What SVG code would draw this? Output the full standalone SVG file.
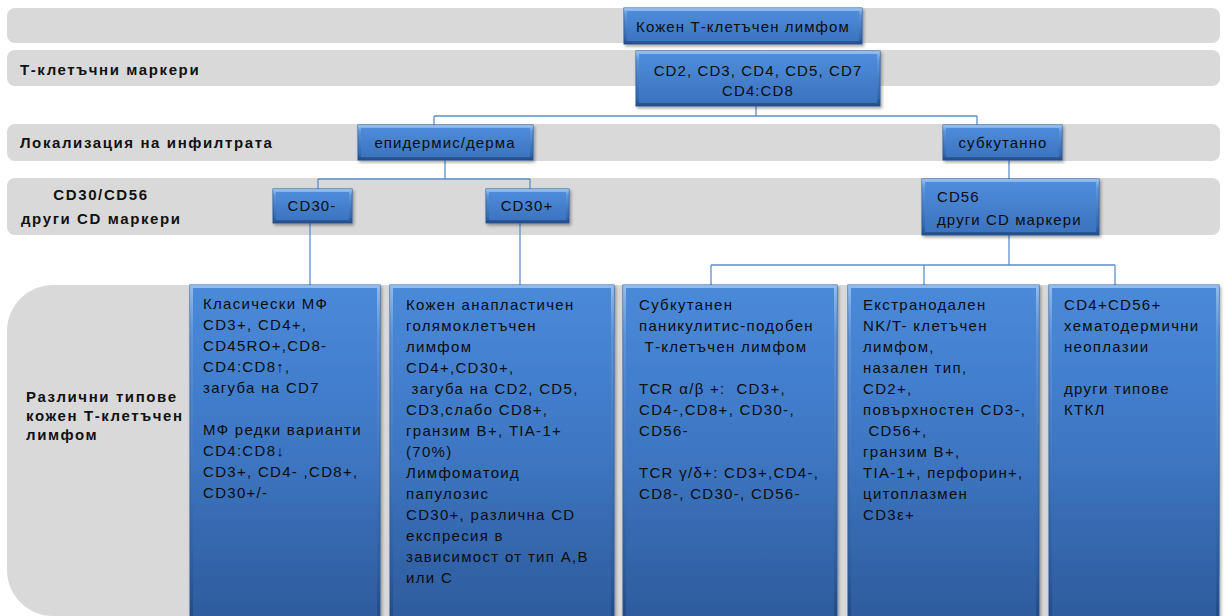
<svg xmlns="http://www.w3.org/2000/svg" width="1225" height="616" viewBox="0 0 1225 616">
<defs>
<linearGradient id="gs" x1="0" y1="0" x2="0" y2="1"><stop offset="0" stop-color="#508fdc"/><stop offset="1" stop-color="#3a71bd"/></linearGradient>
<linearGradient id="gt" x1="0" y1="0" x2="0" y2="1"><stop offset="0" stop-color="#4a8ad9"/><stop offset="0.5" stop-color="#3d76c2"/><stop offset="1" stop-color="#2d5a9b"/></linearGradient>
<linearGradient id="bev" x1="0" y1="0" x2="0" y2="1"><stop offset="0" stop-color="#a9cdf5" stop-opacity="0.75"/><stop offset="0.15" stop-color="#7fb0ea" stop-opacity="0.35"/><stop offset="0.85" stop-color="#1e4680" stop-opacity="0.25"/><stop offset="1" stop-color="#1b3d70" stop-opacity="0.6"/></linearGradient>
<filter id="sh" x="-10%" y="-10%" width="125%" height="140%"><feDropShadow dx="1.5" dy="2" stdDeviation="1.5" flood-color="#000" flood-opacity="0.35"/></filter>
<style>
.band{fill:#d9d9d9}
.box{fill:url(#gs);stroke:#2f5f9f;stroke-width:1;filter:url(#sh)}
.tall{fill:url(#gt);stroke:#2f5f9f;stroke-width:1;filter:url(#sh)}
.bev{fill:none;stroke:url(#bev);stroke-width:3}
.lbl{font-family:"Liberation Sans",Arial,sans-serif;font-size:15px;font-weight:bold;fill:#111;letter-spacing:1.6px}
.t{font-family:"Liberation Sans",Arial,sans-serif;font-size:15px;fill:#0d0d0d;letter-spacing:1.1px}
.b{font-family:"Liberation Sans",Arial,sans-serif;font-size:15px;fill:#0d0d0d;letter-spacing:1.3px}
.c{text-anchor:middle}
.con{fill:none;stroke:#5f8fcc;stroke-width:1.3}
</style>
</defs>
<g id="bands">
<rect class="band" x="7" y="8" width="1213" height="35" rx="8"/>
<rect class="band" x="7" y="50" width="1213" height="36" rx="8"/>
<rect class="band" x="7" y="124" width="1213" height="37" rx="8"/>
<rect class="band" x="7" y="178" width="1213" height="57" rx="8"/>
<rect class="band" x="7" y="285" width="1213" height="331" rx="46"/>
<text class="lbl" x="20" y="75">Т-клетъчни маркери</text>
<text class="lbl" x="20" y="148">Локализация на инфилтрата</text>
<text class="lbl c" x="101" y="200">CD30/CD56</text>
<text class="lbl" x="21" y="224">други CD маркери</text>
<text class="lbl" x="26" y="402"><tspan x="26">Различни типове</tspan><tspan x="26" dy="19">кожен Т-клетъчен</tspan><tspan x="26" dy="19">лимфом</tspan></text>
</g>
<g id="connectors">
<path class="con" d="M756 106V116M434 116H977M434 116V125M977 116V125"/>
<path class="con" d="M445 160V179M318 179H530M318 179V189M530 179V189"/>
<path class="con" d="M310 223V285M520 223V285"/>
<path class="con" d="M1009 160V179M1009 235V265M711 265H1115M711 265V285M924 265V285M1115 265V285"/>
</g>
<g id="n1"><rect class="box" x="624" y="8" width="238" height="36"/><rect class="bev" x="625.5" y="9.5" width="235" height="33"/><text class="t c" x="743" y="32">Кожен Т-клетъчен лимфом</text></g>
<g id="n2"><rect class="box" x="636" y="51" width="244" height="55"/><rect class="bev" x="637.5" y="52.5" width="241" height="52"/><text class="t c" x="758" y="76">CD2, CD3, CD4, CD5, CD7</text><text class="t c" x="758" y="96">CD4:CD8</text></g>
<g id="n3"><rect class="box" x="358" y="125" width="175" height="35"/><rect class="bev" x="359.5" y="126.5" width="172" height="32"/><text class="t c" x="445" y="148">епидермис/дерма</text></g>
<g id="n4"><rect class="box" x="943" y="125" width="119" height="35"/><rect class="bev" x="944.5" y="126.5" width="116" height="32"/><text class="t c" x="1003" y="148">субкутанно</text></g>
<g id="n5"><rect class="box" x="273" y="189" width="79" height="34"/><rect class="bev" x="274.5" y="190.5" width="76" height="31"/><text class="t c" x="312" y="211">CD30-</text></g>
<g id="n6"><rect class="box" x="486" y="189" width="83" height="34"/><rect class="bev" x="487.5" y="190.5" width="80" height="31"/><text class="t c" x="527" y="211">CD30+</text></g>
<g id="n7"><rect class="box" x="922" y="179" width="177" height="56"/><rect class="bev" x="923.5" y="180.5" width="174" height="53"/><text class="t" x="937" y="202">CD56</text><text class="t" x="937" y="225">други CD маркери</text></g>
<g id="b1"><rect class="tall" x="190" y="285" width="190" height="340"/><rect class="bev" x="191.5" y="286.5" width="187" height="337"/>
<text class="b" x="203" y="309" xml:space="preserve"><tspan x="203">Класически МФ</tspan><tspan x="203" dy="21">CD3+, CD4+,</tspan><tspan x="203" dy="21">CD45RO+,CD8-</tspan><tspan x="203" dy="21">CD4:CD8↑,</tspan><tspan x="203" dy="21">загуба на CD7</tspan><tspan x="203" dy="42">МФ редки варианти</tspan><tspan x="203" dy="21">CD4:CD8↓</tspan><tspan x="203" dy="21">CD3+, CD4- ,CD8+,</tspan><tspan x="203" dy="21">CD30+/-</tspan></text></g>
<g id="b2"><rect class="tall" x="390" y="285" width="224" height="340"/><rect class="bev" x="391.5" y="286.5" width="221" height="337"/>
<text class="b" x="406" y="310" xml:space="preserve"><tspan x="406">Кожен анапластичен</tspan><tspan x="406" dy="21">голямоклетъчен</tspan><tspan x="406" dy="21">лимфом</tspan><tspan x="406" dy="21">CD4+,CD30+,</tspan><tspan x="406" dy="21"> загуба на CD2, CD5,</tspan><tspan x="406" dy="21">CD3,слабо CD8+,</tspan><tspan x="406" dy="21">гранзим В+, TIA-1+</tspan><tspan x="406" dy="21">(70%)</tspan><tspan x="406" dy="21">Лимфоматоид</tspan><tspan x="406" dy="21">папулозис</tspan><tspan x="406" dy="21">CD30+, различна CD</tspan><tspan x="406" dy="21">експресия в</tspan><tspan x="406" dy="21">зависимост от тип А,В</tspan><tspan x="406" dy="21">или С</tspan></text></g>
<g id="b3"><rect class="tall" x="623" y="285" width="214" height="340"/><rect class="bev" x="624.5" y="286.5" width="211" height="337"/>
<text class="b" x="639" y="310" xml:space="preserve"><tspan x="639">Субкутанен</tspan><tspan x="639" dy="21">паникулитис-подобен</tspan><tspan x="639" dy="21"> Т-клетъчен лимфом</tspan><tspan x="639" dy="42">TCR α/β +:  CD3+,</tspan><tspan x="639" dy="21">CD4-,CD8+, CD30-,</tspan><tspan x="639" dy="21">CD56-</tspan><tspan x="639" dy="42">TCR γ/δ+: CD3+,CD4-,</tspan><tspan x="639" dy="21">CD8-, CD30-, CD56-</tspan></text></g>
<g id="b4"><rect class="tall" x="848" y="285" width="191" height="340"/><rect class="bev" x="849.5" y="286.5" width="188" height="337"/>
<text class="b" x="863" y="310" xml:space="preserve"><tspan x="863">Екстранодален</tspan><tspan x="863" dy="21">NK/T- клетъчен</tspan><tspan x="863" dy="21">лимфом,</tspan><tspan x="863" dy="21">назален тип,</tspan><tspan x="863" dy="21">CD2+,</tspan><tspan x="863" dy="21">повърхностен CD3-,</tspan><tspan x="863" dy="21"> CD56+,</tspan><tspan x="863" dy="21">гранзим В+,</tspan><tspan x="863" dy="21">TIA-1+, перфорин+,</tspan><tspan x="863" dy="21">цитоплазмен</tspan><tspan x="863" dy="21">CD3ε+</tspan></text></g>
<g id="b5"><rect class="tall" x="1049" y="285" width="170" height="340"/><rect class="bev" x="1050.5" y="286.5" width="167" height="337"/>
<text class="b" x="1064" y="310" xml:space="preserve"><tspan x="1064">CD4+CD56+</tspan><tspan x="1064" dy="21">хематодермични</tspan><tspan x="1064" dy="21">неоплазии</tspan><tspan x="1064" dy="42">други типове</tspan><tspan x="1064" dy="21">КТКЛ</tspan></text></g>
</svg>
